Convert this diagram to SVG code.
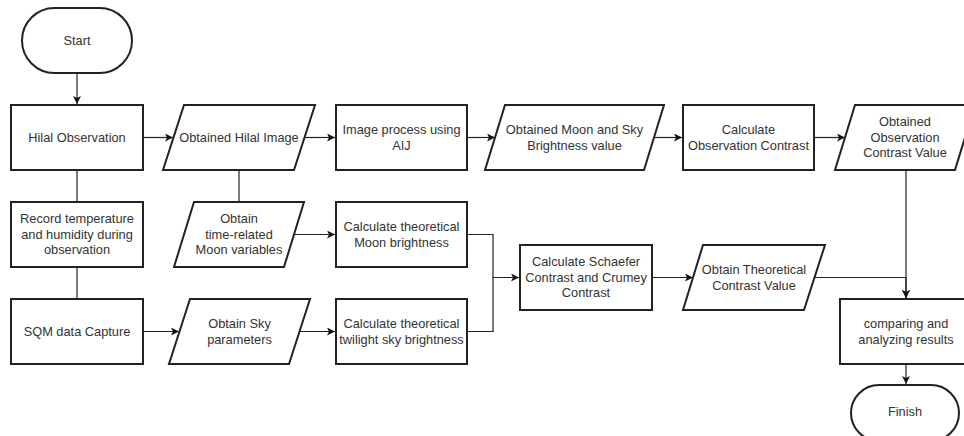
<svg xmlns="http://www.w3.org/2000/svg" width="964" height="436" viewBox="0 0 964 436">
<style>
.s{fill:#fff;stroke:#222;stroke-width:2}
.t{font-family:"Liberation Sans",Arial,sans-serif;font-size:12.8px;fill:#333;text-anchor:middle}
.c{fill:none;stroke:#222;stroke-width:1.2}
</style>
<defs>
<marker id="a" markerWidth="9" markerHeight="8" refX="8" refY="4" orient="auto" markerUnits="userSpaceOnUse">
<path d="M0,0 L8,4 L0,8 L2,4 z" fill="#111"/>
</marker>
</defs>
<rect width="964" height="436" fill="#fff"/>
<g id="connectors">
<path class="c" d="M77,73 V104" marker-end="url(#a)"/>
<path class="c" d="M143,137.5 H173" marker-end="url(#a)"/>
<path class="c" d="M305,137.5 H335" marker-end="url(#a)"/>
<path class="c" d="M467,137.5 H495" marker-end="url(#a)"/>
<path class="c" d="M654,137.5 H682" marker-end="url(#a)"/>
<path class="c" d="M814,137.5 H845" marker-end="url(#a)"/>
<path class="c" d="M906,170 V298" marker-end="url(#a)"/>
<path class="c" d="M77,170 V202"/>
<path class="c" d="M239,170 V202"/>
<path class="c" d="M77,267 V299"/>
<path class="c" d="M294,234.5 H335" marker-end="url(#a)"/>
<path class="c" d="M143,331.5 H179" marker-end="url(#a)"/>
<path class="c" d="M299,331.5 H335" marker-end="url(#a)"/>
<path class="c" d="M467,234.5 H493 V277.5 H519" marker-end="url(#a)"/>
<path class="c" d="M467,331.5 H493 V277.5"/>
<path class="c" d="M652,277.5 H693" marker-end="url(#a)"/>
<path class="c" d="M814,277.5 H906 V298" marker-end="url(#a)"/>
<path class="c" d="M906,364 V384" marker-end="url(#a)"/>
</g>
<g id="start">
<rect class="s" x="22" y="8" width="110" height="65" rx="32.5"/>
<text class="t" x="77" y="45">Start</text>
</g>
<g id="hilal">
<rect class="s" x="11" y="105" width="132" height="65"/>
<text class="t" x="77" y="142">Hilal Observation</text>
</g>
<g id="img">
<polygon class="s" points="184,105 315,105 294,170 163,170"/>
<text class="t" x="239" y="142">Obtained Hilal Image</text>
</g>
<g id="aij">
<rect class="s" x="336" y="105" width="131" height="65"/>
<text class="t" x="401.5" y="134">Image process using<tspan x="401.5" dy="16">AIJ</tspan></text>
</g>
<g id="moonsky">
<polygon class="s" points="505,105 664,105 644,170 485,170"/>
<text class="t" x="574.5" y="134">Obtained Moon and Sky<tspan x="574.5" dy="16">Brightness value</tspan></text>
</g>
<g id="calcobs">
<rect class="s" x="683" y="105" width="131" height="65"/>
<text class="t" x="748.5" y="134">Calculate<tspan x="748.5" dy="16">Observation Contrast</tspan></text>
</g>
<g id="obscontr">
<polygon class="s" points="855,105 975,105 955,170 835,170"/>
<text class="t" x="905" y="126">Obtained<tspan x="905" dy="15.5">Observation</tspan><tspan x="905" dy="15.5">Contrast Value</tspan></text>
</g>
<g id="record">
<rect class="s" x="11" y="202" width="132" height="65"/>
<text class="t" x="77" y="223">Record temperature<tspan x="77" dy="15.5">and humidity during</tspan><tspan x="77" dy="15.5">observation</tspan></text>
</g>
<g id="timerel">
<polygon class="s" points="194,202 304,202 284,267 174,267"/>
<text class="t" x="239" y="223">Obtain<tspan x="239" dy="15.5">time-related</tspan><tspan x="239" dy="15.5">Moon variables</tspan></text>
</g>
<g id="calcmoon">
<rect class="s" x="336" y="202" width="131" height="65"/>
<text class="t" x="401.5" y="231">Calculate theoretical<tspan x="401.5" dy="16">Moon brightness</tspan></text>
</g>
<g id="sqm">
<rect class="s" x="11" y="299" width="132" height="65"/>
<text class="t" x="77" y="336">SQM data Capture</text>
</g>
<g id="skypar">
<polygon class="s" points="190,299 310,299 289,364 169,364"/>
<text class="t" x="239.5" y="328">Obtain Sky<tspan x="239.5" dy="16">parameters</tspan></text>
</g>
<g id="calctwi">
<rect class="s" x="336" y="299" width="131" height="65"/>
<text class="t" x="401.5" y="328">Calculate theoretical<tspan x="401.5" dy="16">twilight sky brightness</tspan></text>
</g>
<g id="schaefer">
<rect class="s" x="520" y="245" width="132" height="65"/>
<text class="t" x="586" y="266">Calculate Schaefer<tspan x="586" dy="15.5">Contrast and Crumey</tspan><tspan x="586" dy="15.5">Contrast</tspan></text>
</g>
<g id="theor">
<polygon class="s" points="703,245 825,245 804,310 683,310"/>
<text class="t" x="754" y="274">Obtain Theoretical<tspan x="754" dy="16">Contrast Value</tspan></text>
</g>
<g id="compare">
<rect class="s" x="840" y="299" width="132" height="65"/>
<text class="t" x="906" y="328">comparing and<tspan x="906" dy="16">analyzing results</tspan></text>
</g>
<g id="finish">
<rect class="s" x="851" y="385" width="108" height="56" rx="28"/>
<text class="t" x="905" y="416">Finish</text>
</g>
</svg>
